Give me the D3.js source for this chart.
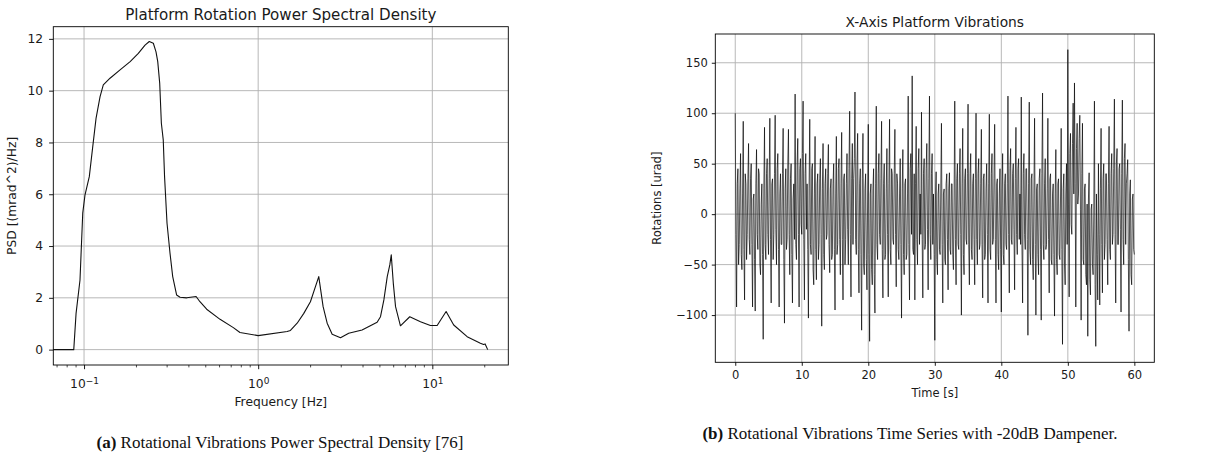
<!DOCTYPE html>
<html>
<head>
<meta charset="utf-8">
<script src="https://cdn.jsdelivr.net/npm/d3@7"></script>
<style>
  body { margin: 0; background: #fff; }
  text { font-family: "DejaVu Sans", sans-serif; fill: #1a1a1a; }
  .caption { font-family: "Liberation Serif", serif; fill: #111; }
</style>
</head>
<body>
<svg id="chart"></svg>
<script>
// Set data
// (a) PSD curve
const psdFreq = [0.05, 0.0873, 0.090, 0.0948, 0.0983, 0.1013, 0.1072, 0.1122, 0.1172, 0.1236,
    0.129, 0.141, 0.161, 0.184, 0.205, 0.224, 0.237, 0.25, 0.259, 0.265,
    0.272, 0.278, 0.285, 0.290, 0.2996, 0.3117, 0.323, 0.340, 0.356, 0.389,
    0.44, 0.463, 0.506, 0.604, 0.72, 0.786, 1.0, 1.467, 1.532, 1.674,
    1.828, 1.995, 2.228, 2.36, 2.49, 2.66, 2.97, 3.31, 3.95, 4.82,
    5.04, 5.27, 5.51, 5.70, 5.81, 5.97, 6.15, 6.56, 7.42, 8.55,
    9.75, 10.66, 12.0, 13.27, 15.85, 18.88, 19.7, 20.1, 20.8];
const psdValue = [0, 0, 1.4, 2.69, 5.27, 5.98, 6.68, 7.84, 8.93, 9.77,
    10.22, 10.48, 10.8, 11.12, 11.44, 11.76, 11.9, 11.83, 11.5, 11.12,
    10.28, 8.74, 8.1, 6.68, 4.88, 3.72, 2.82, 2.11, 2.02, 2.0,
    2.05, 1.85, 1.56, 1.17, 0.85, 0.66, 0.54, 0.70, 0.74, 1.02,
    1.40, 1.85, 2.82, 1.66, 1.02, 0.59, 0.46, 0.63, 0.76, 1.06,
    1.27, 1.92, 2.82, 3.27, 3.66, 2.56, 1.66, 0.92, 1.27, 1.08,
    0.93, 0.93, 1.47, 0.95, 0.50, 0.25, 0.2, 0.22, 0.0];
const psdYTicks = [0, 2, 4, 6, 8, 10, 12];
const psdXTicks = [0.1, 1, 10];
const psdXTickExp = ["\u22121", "0", "1"];
const psdXMinor = [0.07, 0.08, 0.09, 0.2, 0.3, 0.4, 0.5, 0.6, 0.7, 0.8, 0.9,
    2, 3, 4, 5, 6, 7, 8, 9, 20];

// (b) rotation time series, 10 samples per second (urad), one row per second
const sampleStep = 0.1;
const rotation = [
    100, -20, -92, 30, 45, -50, -30, 25, 60, -40,
    -55, 20, 92, -35, -85, 40, 30, -45, -20, 35,
    70, -25, -40, 35, 50, -30, -92, 15, 20, -45,
    -96, 30, 64, -20, -35, 45, 40, -50, -60, 10,
    30, -40, -124, 25, 86, -30, -45, 40, 55, -20,
    -40, 35, 95, -25, -88, 30, 35, -45, -20, 40,
    98, -15, -50, 45, 60, -35, -92, 20, 40, -30,
    -30, 40, 85, -45, -108, 25, 45, -35, -25, 50,
    84, -20, -60, 35, 50, -40, -88, 15, 30, -25,
    119, -30, -45, 50, 75, -20, -92, 45, 55, -10,
    -20, 60, 112, -25, -85, 40, 60, -15, 30, -35,
    -103, 25, 94, -30, -40, 45, 50, -55, -70, 20,
    77, -35, -65, 30, 40, -45, -30, 35, 55, -20,
    -111, 25, 70, -40, -55, 30, 45, -25, -20, 40,
    69, -30, -58, 25, 35, -45, -40, 30, 50, -35,
    -95, 20, 77, -40, -30, 45, 55, -25, -60, 30,
    81, -25, -85, 35, 40, -50, -25, 30, 60, -15,
    -50, 45, 102, -20, -82, 35, 70, -30, 35, 55,
    121, -25, -40, 50, 80, -35, -78, 30, 45, -40,
    -115, 35, 80, -50, -60, 25, 40, -45, -75, 15,
    89, -40, -126, 20, 30, -55, -70, 25, 45, -60,
    -98, 30, 107, -30, -45, 40, 60, -20, -30, 35,
    92, -35, -83, 30, 50, -45, -40, 25, 65, -20,
    -82, 30, 94, -35, -50, 45, 40, -25, -30, 40,
    84, -20, -72, 40, 30, -35, -45, 20, 55, -30,
    -103, 25, 64, -40, -60, 30, 35, -45, -40, 20,
    117, -30, -85, 45, 60, -20, 137, -35, -40, 40,
    -85, 30, 87, -25, -50, 45, 65, -30, 20, -20,
    101, -25, -83, 40, 55, -35, -30, 45, 70, -15,
    -75, 35, 117, -20, -45, 40, 60, -30, 20, -40,
    -125, 15, 42, -45, -60, 20, 30, -35, -40, 25,
    90, -30, -88, 20, 25, -45, -50, 30, 40, -25,
    -75, 25, 41, -35, -40, 30, 30, -40, -55, 15,
    112, -25, -70, 35, 50, -30, -35, 40, 65, -20,
    -100, 30, 85, -40, -60, 35, 45, -25, -30, 40,
    109, -30, -70, 40, 60, -35, -45, 30, 40, -25,
    -70, 35, 100, -25, -50, 40, 55, -35, -30, 30,
    84, -30, -83, 35, 40, -45, -40, 25, 50, -20,
    -88, 30, 99, -35, -45, 40, 60, -30, -25, 35,
    89, -25, -88, 30, 35, -40, -55, 20, 45, -35,
    -97, 25, 60, -40, -50, 30, 40, -30, -35, 30,
    117, -20, -78, 45, 65, -25, -30, 40, 50, -15,
    -75, 35, 86, -20, -40, 45, 55, -25, 20, -30,
    116, -30, -88, 40, 60, -20, -35, 45, 45, -25,
    -120, 30, 111, -35, -50, 35, 40, -45, -65, 20,
    95, -30, -100, 25, 30, -40, -60, 35, 45, -35,
    -105, 40, 120, -30, -45, 30, 55, -35, -30, 25,
    95, -25, -78, 35, 40, -45, -50, 20, 30, -40,
    -101, 20, 64, -45, -60, 30, 35, -40, -45, 15,
    85, -35, -129, 25, 40, -50, -70, 20, 50, -30,
    163, 10, -82, 60, 80, -10, -20, 70, 110, 20,
    130, 30, -92, 65, 90, 10, 20, 75, 98, 5,
    -105, 40, 90, -45, -50, 25, 30, -60, -70, 10,
    -121, 15, 41, -65, -80, 5, 10, -50, -60, 0,
    112, -70, -131, 20, -40, -85, 50, -20, -90, 25,
    85, -30, -78, 35, 50, -45, -30, 40, 40, -25,
    -70, 30, 87, -35, -45, 40, 60, -30, -20, 45,
    114, -20, -88, 50, 65, -30, -30, 45, 50, -15,
    -97, 40, 113, -25, -50, 55, 70, -30, 30, 40,
    54, -45, -116, 20, 34, -60, -70, 15, 20, -35,
    -40];
const timeXTicks = [0, 10, 20, 30, 40, 50, 60];
const timeYTicks = [-100, -50, 0, 50, 100, 150];


// Set width and height
const width = 1221;
const height = 457;

const svg = d3.select("#chart")
    .attr("width", width)
    .attr("height", height);

const gridColor = "#b0b0b0";

// functions
const drawFrame = function(g, box){
    g.append("rect")
        .attr("x", box.left).attr("y", box.top)
        .attr("width", box.right - box.left).attr("height", box.bottom - box.top)
        .attr("fill", "none")
        .attr("stroke", "#000")
        .attr("stroke-width", 0.9);
}

const drawGrid = function(g, box, xScale, xTicks, yScale, yTicks){
    g.selectAll(null).data(xTicks).enter().append("line")
        .attr("x1", d => xScale(d)).attr("x2", d => xScale(d))
        .attr("y1", box.top).attr("y2", box.bottom)
        .attr("stroke", gridColor).attr("stroke-width", 0.9);
    g.selectAll(null).data(yTicks).enter().append("line")
        .attr("x1", box.left).attr("x2", box.right)
        .attr("y1", d => yScale(d)).attr("y2", d => yScale(d))
        .attr("stroke", gridColor).attr("stroke-width", 0.9);
}

const drawAxes = function(g, box, xScale, yScale, xTicks, yTicks, xFormat, yFormat, st){
    const xAxis = d3.axisBottom(xScale).tickValues(xTicks).tickSize(st.tick).tickPadding(st.xPad)
        .tickFormat(xFormat);
    const yAxis = d3.axisLeft(yScale).tickValues(yTicks).tickSize(st.tick).tickPadding(st.yPad)
        .tickFormat(yFormat);
    const gx = g.append("g").attr("transform", `translate(0,${box.bottom})`).call(xAxis);
    const gy = g.append("g").attr("transform", `translate(${box.left},0)`).call(yAxis);
    for (const a of [gx, gy]){
        a.select(".domain").remove();
        a.selectAll("line").attr("stroke", "#000").attr("stroke-width", 0.9);
        a.selectAll("text").style("font-size", st.font + "px")
            .style("font-family", "'DejaVu Sans', sans-serif").attr("fill", "#1a1a1a");
    }
    return {gx: gx, gy: gy};
}

const drawLabels = function(g, box, title, xLabel, yLabel, yLabelX, st){
    const cx = (box.left + box.right) / 2;
    g.append("text").attr("x", cx).attr("y", box.top - 7)
        .attr("text-anchor", "middle").style("font-size", st.title + "px").text(title);
    g.append("text").attr("x", cx).attr("y", box.bottom + st.xLabelGap)
        .attr("text-anchor", "middle").style("font-size", st.font + "px").text(xLabel);
    g.append("text")
        .attr("transform", `translate(${yLabelX},${(box.top + box.bottom) / 2}) rotate(-90)`)
        .attr("text-anchor", "middle").style("font-size", st.font + "px").text(yLabel);
}

const drawCaption = function(x, y, tag, rest){
    const t = svg.append("text").attr("class", "caption")
        .attr("x", x).attr("y", y).attr("text-anchor", "middle")
        .style("font-size", "17px");
    t.append("tspan").style("font-weight", "bold").text(tag);
    t.append("tspan").text(" " + rest);
}


// (a) power spectral density
const psdStyle = {font: 12.3, title: 15.1, tick: 4.2, xPad: 4.5, yPad: 6, xLabelGap: 41};
const psdBox = {left: 53.3, right: 508.3, top: 26.7, bottom: 365};
const psdX = d3.scaleLog().domain([0.0666, 27.31]).range([psdBox.left, psdBox.right]);
const psdY = d3.scaleLinear().domain([-0.594, 12.47]).range([psdBox.bottom, psdBox.top]);
const psdG = svg.append("g");

svg.append("clipPath").attr("id", "psd-clip").append("rect")
    .attr("x", psdBox.left).attr("y", psdBox.top)
    .attr("width", psdBox.right - psdBox.left).attr("height", psdBox.bottom - psdBox.top);

drawGrid(psdG, psdBox, psdX, psdXTicks, psdY, psdYTicks);

const psdLine = d3.line()
    .x((d, i) => psdX(psdFreq[i]))
    .y(d => psdY(d));
psdG.append("path")
    .datum(psdValue)
    .attr("clip-path", "url(#psd-clip)")
    .attr("d", psdLine)
    .attr("fill", "none")
    .attr("stroke", "#111")
    .attr("stroke-width", 1.1)
    .attr("stroke-linejoin", "round");

drawFrame(psdG, psdBox);
const psdAxes = drawAxes(psdG, psdBox, psdX, psdY, psdXTicks, psdYTicks, () => "",
    d3.format("d"), psdStyle);

// 10^n tick labels
psdAxes.gx.selectAll(".tick text").each(function(d, i){
    const t = d3.select(this).attr("dy", "1.2em");
    t.append("tspan").text("10");
    t.append("tspan").attr("dy", "-0.5em").style("font-size", "9px").text(psdXTickExp[i]);
});

// minor ticks
psdG.selectAll(null).data(psdXMinor).enter().append("line")
    .attr("x1", d => psdX(d)).attr("x2", d => psdX(d))
    .attr("y1", psdBox.bottom).attr("y2", psdBox.bottom + 2.4)
    .attr("stroke", "#000").attr("stroke-width", 0.7);

drawLabels(psdG, psdBox, "Platform Rotation Power Spectral Density",
    "Frequency [Hz]", "PSD [(mrad^2)/Hz]", 16, psdStyle);


// (b) time series
const tsStyle = {font: 11.5, title: 13.8, tick: 3.5, xPad: 5, yPad: 4, xLabelGap: 35};
const tsBox = {left: 715.3, right: 1154.3, top: 34, bottom: 362.3};
const tsX = d3.scaleLinear().domain([-3, 63]).range([tsBox.left, tsBox.right]);
const tsY = d3.scaleLinear().domain([-146.8, 178.5]).range([tsBox.bottom, tsBox.top]);
const tsG = svg.append("g");

drawGrid(tsG, tsBox, tsX, timeXTicks, tsY, timeYTicks);

const tsLine = d3.line()
    .x((d, i) => tsX(i * sampleStep))
    .y(d => tsY(d));
tsG.append("path")
    .datum(rotation)
    .attr("d", tsLine)
    .attr("fill", "none")
    .attr("stroke", "#000")
    .attr("stroke-opacity", 0.85)
    .attr("stroke-width", 0.8);

drawFrame(tsG, tsBox);
drawAxes(tsG, tsBox, tsX, tsY, timeXTicks, timeYTicks, d3.format("d"),
    d => d < 0 ? "\u2212" + Math.abs(d) : String(d), tsStyle);

drawLabels(tsG, tsBox, "X-Axis Platform Vibrations", "Time [s]", "Rotations [urad]", 661, tsStyle);


// captions
drawCaption(280, 448, "(a)", "Rotational Vibrations Power Spectral Density [76]");
drawCaption(910, 439, "(b)", "Rotational Vibrations Time Series with -20dB Dampener.");
</script>
</body>
</html>
